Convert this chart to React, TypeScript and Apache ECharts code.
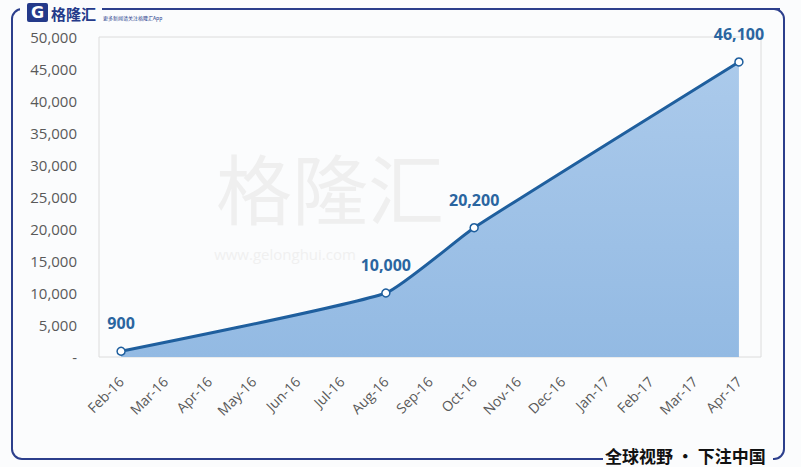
import React, { useEffect, useRef } from "react";
import * as echarts from "echarts";

const categories = [
  "Feb-16", "Mar-16", "Apr-16", "May-16", "Jun-16", "Jul-16", "Aug-16", "Sep-16",
  "Oct-16", "Nov-16", "Dec-16", "Jan-17", "Feb-17", "Mar-17", "Apr-17",
];
const values: (number | null)[] = [
  900, null, null, null, null, null, 10000, null,
  20200, null, null, null, null, null, 46100,
];
const yMin = 0;
const yMax = 50000;
const yInterval = 5000;

export default function App() {
  const ref = useRef<HTMLDivElement>(null);
  useEffect(() => {
    if (!ref.current) return;
    const chart = echarts.init(ref.current, null, { renderer: "svg" });
    const fontFam = "'Open Sans', 'Noto Sans', sans-serif";
    chart.setOption({
      animation: false,
      backgroundColor: "#fbfcfd",
      grid: { left: 99, right: 40, top: 37, bottom: 110, show: true, borderColor: "#dcdcdc", borderWidth: 1, backgroundColor: "transparent" },
      graphic: [
        { type: "rect", shape: { x: 12, y: 9, width: 772, height: 450, r: 10 }, style: { fill: "none", stroke: "#2c3f8c", lineWidth: 2 }, z: 0 },
        { type: "rect", shape: { x: 20, y: 0, width: 160, height: 24 }, style: { fill: "#fbfcfd" }, z: 1 },
        { type: "rect", shape: { x: 27, y: 3, width: 21, height: 19, r: 2 }, style: { fill: "#243a8a" }, z: 2 },
        { type: "text", x: 37.5, y: 12.5, style: { text: "G", fill: "#ffffff", font: "bold 16px 'DejaVu Sans', sans-serif", align: "center", verticalAlign: "middle" }, z: 3 },
        { type: "text", x: 51, y: 13, style: { text: "格隆汇", fill: "#243a8a", font: "bold 15px 'Noto Sans CJK SC', sans-serif", verticalAlign: "middle" }, z: 3 },
        { type: "line", shape: { x1: 102, y1: 9, x2: 780, y2: 9 }, style: { stroke: "#2c3f8c", lineWidth: 2 }, z: 2 },
        { type: "text", x: 103, y: 17, style: { text: "更多新闻请关注格隆汇App", fill: "#243a8a", font: "5px 'Noto Sans CJK SC', sans-serif", verticalAlign: "middle" }, z: 3 },
        { type: "text", x: 330, y: 186, style: { text: "格隆汇", fill: "#efefef", font: "76px 'Noto Sans CJK SC', sans-serif", align: "center", verticalAlign: "middle" }, z: -1 },
        { type: "text", x: 285, y: 254, style: { text: "www.gelonghui.com", fill: "#f0f0f0", font: "15px 'Open Sans', sans-serif", align: "center", verticalAlign: "middle" }, z: -1 },
        { type: "rect", shape: { x: 603, y: 446, width: 170, height: 20 }, style: { fill: "#fbfcfd" }, z: 3 },
        { type: "text", x: 605, y: 455, style: { text: "全球视野 · 下注中国", fill: "#111111", font: "bold 17px 'Noto Sans CJK SC', sans-serif", verticalAlign: "middle" }, z: 4 },
      ],
      xAxis: {
        type: "category",
        data: categories,
        boundaryGap: true,
        axisLine: { show: false },
        axisTick: { show: false },
        axisLabel: { rotate: 45, color: "#595959", fontSize: 14, fontFamily: fontFam, margin: 22, interval: 0 },
        splitLine: { show: false },
      },
      yAxis: {
        type: "value",
        min: yMin,
        max: yMax,
        interval: yInterval,
        axisLine: { show: false },
        axisTick: { show: false },
        splitLine: { show: false },
        axisLabel: {
          color: "#595959",
          fontSize: 15,
          fontFamily: fontFam,
          margin: 22,
          formatter: (v: number) => (v === 0 ? "-" : v.toLocaleString("en-US")),
        },
      },
      series: [
        {
          type: "line",
          data: values,
          connectNulls: true,
          smooth: 0.15,
          symbol: "circle",
          symbolSize: 8,
          itemStyle: { color: "#ffffff", borderColor: "#1f5f9e", borderWidth: 1.5 },
          lineStyle: { color: "#1f5f9e", width: 3 },
          areaStyle: {
            color: new echarts.graphic.LinearGradient(0, 0, 0, 1, [
              { offset: 0, color: "#abcaeb" },
              { offset: 1, color: "#93bae3" },
            ]),
            opacity: 1,
          },
          label: {
            show: true,
            position: "top",
            distance: 15,
            color: "#2a65a0",
            fontSize: 16,
            fontWeight: "bold",
            fontFamily: fontFam,
            formatter: (p: any) => (p.value == null ? "" : Number(p.value).toLocaleString("en-US")),
          },
        },
      ],
    });
    return () => chart.dispose();
  }, []);
  return <div ref={ref} style={{ width: 801, height: 467, position: "absolute", left: 0, top: 0 }} />;
}
